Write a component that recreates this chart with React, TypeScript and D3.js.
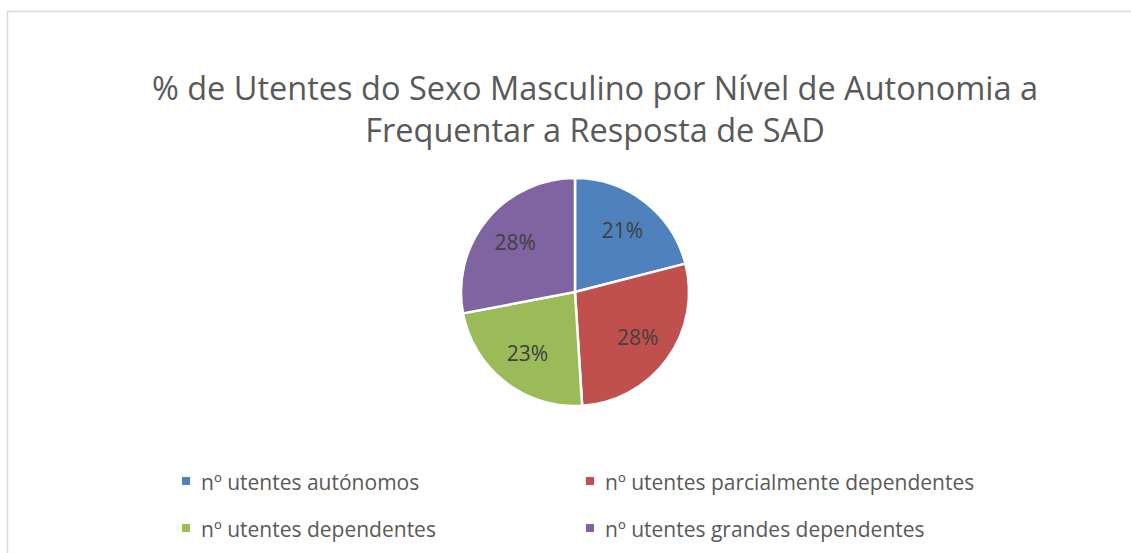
import { useEffect, useRef } from 'react'
import * as d3 from 'd3'

const categories = [
  'nº utentes autónomos',
  'nº utentes parcialmente dependentes',
  'nº utentes dependentes',
  'nº utentes grandes dependentes',
]
const shares = [21, 28, 23, 28]
const colors = ['#4F81BD', '#C0504D', '#9BBB59', '#8064A2']
const titleLines = [
  '% de Utentes do Sexo Masculino por Nível de Autonomia a',
  'Frequentar a Resposta de SAD',
]

const W = 1131
const H = 553
const FONT = "'Open Sans', 'Noto Sans', sans-serif"

type Slice = { name: string; value: number; color: string }

export default function App() {
  const ref = useRef<SVGSVGElement | null>(null)

  useEffect(() => {
    document.body.style.margin = '0'
    if (!ref.current) return
    const svg = d3.select(ref.current)
    svg.selectAll('*').remove()

    svg.append('rect').attr('width', W).attr('height', H).attr('fill', '#fff')

    // chart area border (runs off the right and bottom edges)
    svg
      .append('rect')
      .attr('x', 7.5)
      .attr('y', 11.5)
      .attr('width', W + 20)
      .attr('height', H + 20)
      .attr('fill', 'none')
      .attr('stroke', '#d9d9d9')
      .attr('stroke-width', 1.5)

    svg
      .append('g')
      .selectAll('text')
      .data(titleLines)
      .join('text')
      .attr('x', 595)
      .attr('y', (_, i) => 100 + i * 42)
      .attr('text-anchor', 'middle')
      .style('font-family', FONT)
      .style('font-size', '32.5px')
      .style('fill', '#595959')
      .text((d) => d)

    const cx = 575
    const cy = 292
    const radius = 114

    const data: Slice[] = categories.map((c, i) => ({ name: c, value: shares[i], color: colors[i] }))
    const pie = d3
      .pie<Slice>()
      .value((d) => d.value)
      .sort(null)
    const arcs = pie(data)
    const arc = d3.arc<d3.PieArcDatum<Slice>>().innerRadius(0).outerRadius(radius)
    const labelArc = d3
      .arc<d3.PieArcDatum<Slice>>()
      .innerRadius(radius * 0.68)
      .outerRadius(radius * 0.68)

    const g = svg.append('g').attr('transform', `translate(${cx},${cy})`)

    g.selectAll('path')
      .data(arcs)
      .join('path')
      .attr('d', arc)
      .attr('fill', (d) => d.data.color)
      .attr('stroke', '#fff')
      .attr('stroke-width', 2.5)

    g.selectAll('text')
      .data(arcs)
      .join('text')
      .attr('transform', (d) => `translate(${labelArc.centroid(d)})`)
      .attr('text-anchor', 'middle')
      .attr('dy', '0.35em')
      .style('font-family', FONT)
      .style('font-size', '21px')
      .style('fill', '#404040')
      .text((d) => `${d.data.value}%`)

    // legend, two columns
    const colX = [182, 586]
    const rowY = [490, 537]
    const legend = svg
      .append('g')
      .selectAll('g')
      .data(data)
      .join('g')
      .attr('transform', (_, i) => `translate(${colX[i % 2]},${rowY[Math.floor(i / 2)]})`)

    legend
      .append('rect')
      .attr('x', 0)
      .attr('y', -13)
      .attr('width', 8)
      .attr('height', 8)
      .attr('fill', (d) => d.color)

    legend
      .append('text')
      .attr('x', 19)
      .attr('y', 0)
      .style('font-family', FONT)
      .style('font-size', '21px')
      .style('fill', '#595959')
      .text((d) => d.name)
  }, [])

  return <svg ref={ref} width={W} height={H} style={{ display: 'block' }} />
}
